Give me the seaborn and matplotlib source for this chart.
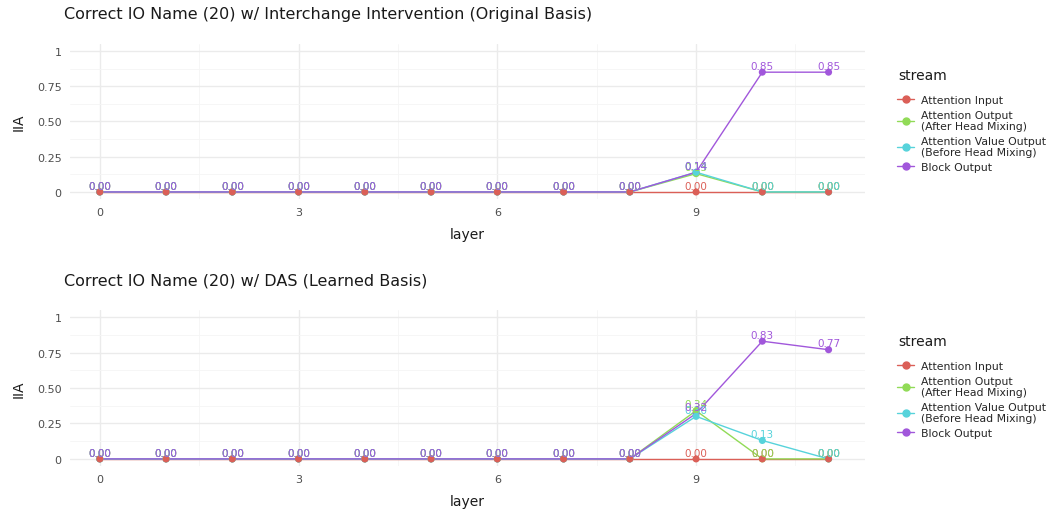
import numpy as np
import pandas as pd
import matplotlib
matplotlib.use("Agg")
import matplotlib.pyplot as plt
import seaborn as sns
from matplotlib.lines import Line2D

layers = list(range(12))
streams = ["Attention Input",
           "Attention Output\n(After Head Mixing)",
           "Attention Value Output\n(Before Head Mixing)",
           "Block Output"]

# IIA per layer, interchange intervention in the original basis
orig_attn_input = [0, 0, 0, 0, 0, 0, 0, 0, 0, 0.00, 0.00, 0.00]
orig_attn_output = [0, 0, 0, 0, 0, 0, 0, 0, 0, 0.13, 0.00, 0.00]
orig_attn_value = [0, 0, 0, 0, 0, 0, 0, 0, 0, 0.14, 0.00, 0.00]
orig_block_output = [0, 0, 0, 0, 0, 0, 0, 0, 0, 0.14, 0.85, 0.85]

# IIA per layer, DAS in the learned basis
das_attn_input = [0, 0, 0, 0, 0, 0, 0, 0, 0, 0.00, 0.00, 0.00]
das_attn_output = [0, 0, 0, 0, 0, 0, 0, 0, 0, 0.34, 0.00, 0.00]
das_attn_value = [0, 0, 0, 0, 0, 0, 0, 0, 0, 0.30, 0.13, 0.00]
das_block_output = [0, 0, 0, 0, 0, 0, 0, 0, 0, 0.32, 0.83, 0.77]

titles = ["Correct IO Name (20) w/ Interchange Intervention (Original Basis)",
          "Correct IO Name (20) w/ DAS (Learned Basis)"]
y_ticks = [0, 0.25, 0.5, 0.75, 1]
y_tick_labels = ["0", "0.25", "0.50", "0.75", "1"]
x_ticks = [0, 3, 6, 9]


def make_frame(series):
    rows = []
    for name, vals in zip(streams, series):
        for l, v in zip(layers, vals):
            rows.append({"layer": l, "IIA": v, "stream": name})
    return pd.DataFrame(rows)


frames = [
    make_frame([orig_attn_input, orig_attn_output, orig_attn_value, orig_block_output]),
    make_frame([das_attn_input, das_attn_output, das_attn_value, das_block_output]),
]

palette = dict(zip(streams, sns.color_palette("hls", 4)))

sns.set_theme(style="whitegrid")
plt.rcParams["font.family"] = ["DejaVu Sans"]

fig = plt.figure(figsize=(10.49, 5.10), dpi=100)
W, H = 1049, 510
# (axes top px, axes bottom px, title centre px, legend title px, first entry px)
panels = [(45, 200, 15, 76, 103), (311, 467, 281, 342, 369)]

# stacking of the points, bottom to top
point_order = [streams[3], streams[1], streams[2], streams[0]]

for (top, bottom, title_y, leg_title_y, leg_y), df, title in zip(panels, frames, titles):
    ax = fig.add_axes([70 / W, 1 - bottom / H, 795 / W, (bottom - top) / H])
    ax.set_facecolor("white")
    sns.lineplot(data=df, x="layer", y="IIA", hue="stream", hue_order=streams,
                 palette=palette, linewidth=1.0, ax=ax, legend=False, zorder=2)
    rank = {s: i for i, s in enumerate(point_order)}
    pts = df.assign(o=df["stream"].map(rank)).sort_values("o", kind="stable")
    sns.scatterplot(data=pts, x="layer", y="IIA", hue="stream", hue_order=streams,
                    palette=palette, s=26, linewidth=0, ax=ax, legend=False, zorder=3)
    for s in streams:
        sub = df[df["stream"] == s]
        for l, v in zip(sub["layer"], sub["IIA"]):
            ax.text(l, v + 0.009, f"{v:.2f}", color=palette[s], fontsize=7.5,
                    ha="center", va="bottom", zorder=4)

    ax.set_xlim(-0.45, 11.55)
    ax.set_ylim(-0.05, 1.05)
    ax.set_xticks(x_ticks)
    ax.set_xticks([1.5, 4.5, 7.5, 10.5], minor=True)
    ax.set_yticks(y_ticks)
    ax.set_yticklabels(y_tick_labels)
    ax.set_yticks([0.125, 0.375, 0.625, 0.875], minor=True)
    ax.grid(which="major", color="#ebebeb", linewidth=1.0)
    ax.grid(which="minor", color="#f5f5f5", linewidth=0.6)
    for sp in ax.spines.values():
        sp.set_visible(False)
    ax.tick_params(axis="both", which="both", length=0, labelsize=8,
                   labelcolor="#4d4d4d", pad=6)
    ax.set_xlabel("layer", fontsize=10, color="#1a1a1a", labelpad=7)
    ax.set_ylabel("IIA", fontsize=10, color="#1a1a1a", labelpad=8)
    fig.text(64 / W, 1 - title_y / H, title, fontsize=11.5, color="#1a1a1a",
             ha="left", va="center")

    fig.text(898 / W, 1 - leg_title_y / H, "stream", fontsize=10,
             color="#1a1a1a", ha="left", va="center")
    handles = [Line2D([0], [0], color=palette[s], marker="o", markersize=5,
                      linewidth=1.0) for s in streams]
    fig.legend(handles, streams, loc="upper left",
               bbox_to_anchor=(897 / W, 1 - (leg_y - 7) / H),
               bbox_transform=fig.transFigure, frameon=False, fontsize=7.8,
               handlelength=1.6, handletextpad=0.6, labelspacing=0.42,
               borderpad=0, borderaxespad=0)

fig.savefig("out.png", dpi=100, facecolor="white")
